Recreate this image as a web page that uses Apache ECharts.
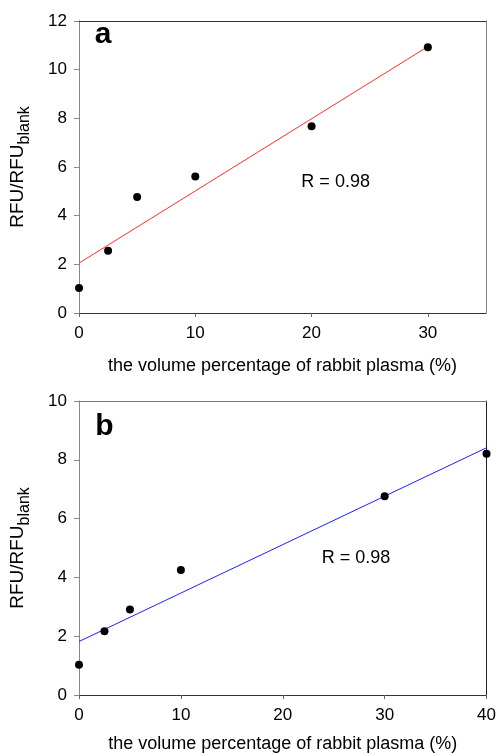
<!DOCTYPE html>
<html>
<head>
<meta charset="utf-8">
<script src="https://cdn.jsdelivr.net/npm/echarts@6/dist/echarts.min.js"></script>
<style>
html,body{margin:0;padding:0;background:#fff;}
#chart{width:499px;height:754px;}
</style>
</head>
<body>
<div id="chart"></div>
<script>
// Panel a data
var xA = [0, 2.5, 5, 10, 20, 30];
var yA = [1.03, 2.56, 4.77, 5.61, 7.67, 10.92];
var fitXA = [0, 30];
var fitYA = [2.05, 10.95];
var xTicksA = [0, 10, 20, 30];
var yTicksA = [0, 2, 4, 6, 8, 10, 12];
// Panel b data
var xB = [0, 2.5, 5, 10, 30, 40];
var yB = [1.03, 2.17, 2.91, 4.25, 6.76, 8.21];
var fitXB = [0, 40];
var fitYB = [1.82, 8.41];
var xTicksB = [0, 10, 20, 30, 40];
var yTicksB = [0, 2, 4, 6, 8, 10];
// Annotations
var panelLabels = ['a', 'b'];
var rText = 'R = 0.98';
var xName = 'the volume percentage of rabbit plasma (%)';
var labelPosA = [1.35, 11.45];
var labelPosB = [1.6, 9.13];
var rPosA = [22.07, 5.40];
var rPosB = [27.18, 4.67];

var FONT = '"Liberation Sans", Arial, Helvetica, sans-serif';

function zip(xs, ys) { return xs.map(function (x, i) { return [x, ys[i]]; }); }

function bottomAxis(gi, max, ticks, gap) {
  return {
    type: 'value', gridIndex: gi, min: 0, max: max, interval: 10, position: 'bottom',
    splitLine: {show: false},
    axisLine: {show: true, onZero: false, lineStyle: {color: '#333', width: 1}},
    axisTick: {show: true, customValues: ticks, length: 4, lineStyle: {color: '#666'}},
    axisLabel: {show: true, customValues: ticks, margin: 12, color: '#000', fontSize: 17, fontFamily: FONT,
      formatter: function (v) { return ticks.indexOf(v) >= 0 ? String(v) : ''; }},
    name: xName, nameLocation: 'middle', nameGap: gap,
    nameTextStyle: {color: '#000', fontSize: 18, fontFamily: FONT}
  };
}
function topFrame(gi, max, color) {
  return {
    type: 'value', gridIndex: gi, min: 0, max: max, position: 'top',
    splitLine: {show: false}, axisTick: {show: false}, axisLabel: {show: false},
    axisLine: {show: true, onZero: false, lineStyle: {color: color, width: 1}}
  };
}
function leftAxis(gi, max, ticks) {
  return {
    type: 'value', gridIndex: gi, min: 0, max: max, interval: 2, position: 'left',
    splitLine: {show: false},
    axisLine: {show: true, onZero: false, lineStyle: {color: '#888', width: 1}},
    axisTick: {show: true, length: 5, lineStyle: {color: '#888'}},
    axisLabel: {show: true, margin: 12, color: '#000', fontSize: 17, fontFamily: FONT},
    name: '{m|RFU/RFU}{s|blank}', nameLocation: 'middle', nameGap: 46, nameRotate: 90,
    nameTextStyle: {
      color: '#000', fontFamily: FONT,
      rich: {
        m: {fontSize: 19, fontFamily: FONT, color: '#000', verticalAlign: 'top'},
        s: {fontSize: 16, fontFamily: FONT, color: '#000', verticalAlign: 'bottom', padding: [9, 0, 0, 0]}
      }
    }
  };
}
function rightFrame(gi, max, color) {
  return {
    type: 'value', gridIndex: gi, min: 0, max: max, position: 'right',
    splitLine: {show: false}, axisTick: {show: false}, axisLabel: {show: false},
    axisLine: {show: true, onZero: false, lineStyle: {color: color, width: 1}}
  };
}
function annot(xi, yi, pos, text, style) {
  return {
    type: 'scatter', xAxisIndex: xi, yAxisIndex: yi, symbolSize: 0, silent: true,
    data: [pos], z: 5, itemStyle: {opacity: 1},
    label: Object.assign({show: true, formatter: text, position: 'inside', fontFamily: FONT, color: '#000',
      textBorderWidth: 0, opacity: 1}, style)
  };
}

var chart = echarts.init(document.getElementById('chart'), null, {renderer: 'canvas'});
chart.setOption({
  animation: false,
  backgroundColor: '#fff',
  grid: [
    {left: 79, top: 21, width: 407, height: 292},
    {left: 79, top: 401, width: 412, height: 296}
  ],
  xAxis: [
    bottomAxis(0, 35, xTicksA, 44),
    topFrame(0, 35, '#333'),
    bottomAxis(1, 40, xTicksB, 40),
    topFrame(1, 40, '#777')
  ],
  yAxis: [
    leftAxis(0, 12, yTicksA),
    rightFrame(0, 12, '#888'),
    leftAxis(1, 10, yTicksB),
    rightFrame(1, 10, '#222')
  ],
  series: [
    {type: 'line', xAxisIndex: 0, yAxisIndex: 0, data: zip(fitXA, fitYA), symbol: 'none',
      lineStyle: {color: '#ff3030', width: 1}, z: 2},
    {type: 'scatter', xAxisIndex: 0, yAxisIndex: 0, data: zip(xA, yA), symbol: 'circle', symbolSize: 8,
      itemStyle: {color: '#000', opacity: 1}, clip: false, z: 3},
    {type: 'line', xAxisIndex: 2, yAxisIndex: 2, data: zip(fitXB, fitYB), symbol: 'none',
      lineStyle: {color: '#2020ff', width: 1}, z: 2},
    {type: 'scatter', xAxisIndex: 2, yAxisIndex: 2, data: zip(xB, yB), symbol: 'circle', symbolSize: 8,
      itemStyle: {color: '#000', opacity: 1}, clip: false, z: 3},
    annot(0, 0, labelPosA, panelLabels[0], {fontSize: 30, fontWeight: 'bold', align: 'left', verticalAlign: 'middle'}),
    annot(2, 2, labelPosB, panelLabels[1], {fontSize: 30, fontWeight: 'bold', align: 'left', verticalAlign: 'middle'}),
    annot(0, 0, rPosA, rText, {fontSize: 18, align: 'center', verticalAlign: 'middle'}),
    annot(2, 2, rPosB, rText, {fontSize: 18, align: 'center', verticalAlign: 'middle'})
  ]
});
</script>
</body>
</html>
